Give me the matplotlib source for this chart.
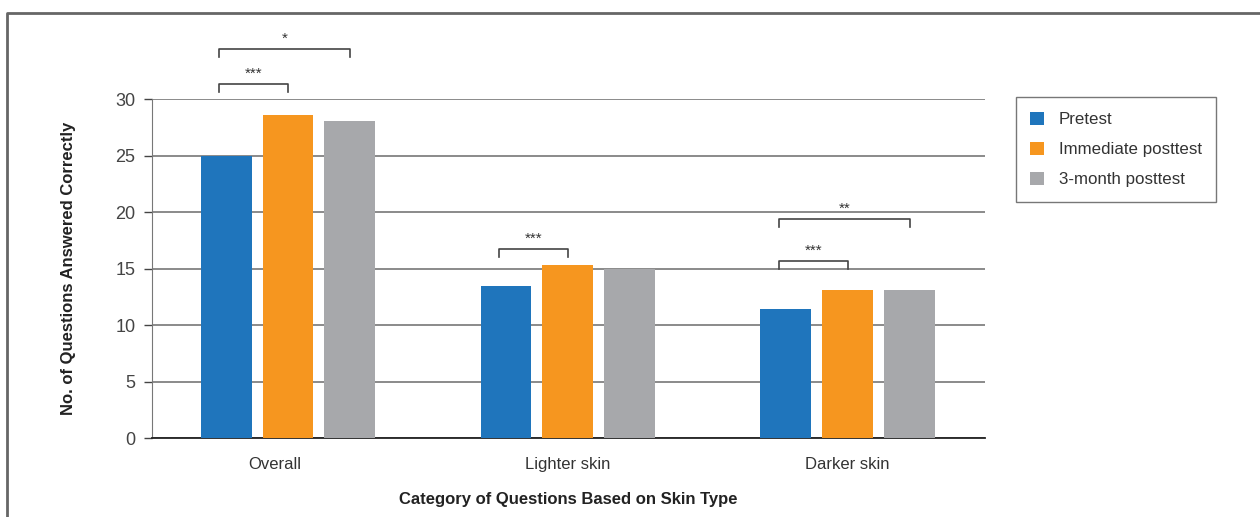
import matplotlib.pyplot as plt
import numpy as np
from matplotlib.lines import Line2D
from matplotlib.transforms import ScaledTranslation

plt.rcParams['font.family'] = ['Liberation Sans', 'DejaVu Sans']

categories = ['Overall', 'Lighter skin', 'Darker skin']
series = ['Pretest', 'Immediate posttest', '3-month posttest']
pretest = [24.95, 13.45, 11.4]
immediate = [28.6, 15.3, 13.1]
three_month = [28.05, 15.0, 13.1]
colors = ['#1f75bc', '#f6961f', '#a7a8ab']

# significance brackets: (group, from bar, to bar, height, label)
brackets = [
    (0, 0, 1, 31.3, '***'),
    (0, 0, 2, 34.4, '*'),
    (1, 0, 1, 16.7, '***'),
    (2, 0, 1, 15.65, '***'),
    (2, 0, 2, 19.4, '**'),
]

fig = plt.figure(figsize=(12.6, 5.17), dpi=100)
ax = fig.add_axes([0.1206, 0.1528, 0.661, 0.6557])

x = np.arange(len(categories))
w = 0.182
step = 0.221
for i, (vals, c, name) in enumerate(zip([pretest, immediate, three_month], colors, series)):
    ax.bar(x + (i - 1) * step, vals, w, color=c, label=name, zorder=3)

ax.set_ylim(0, 30)
ax.set_xlim(-0.486, 2.49)
ax.set_yticks(range(0, 31, 5))
ax.yaxis.grid(True, color='#777777', lw=1.2, zorder=0)
ax.set_xticks(x)
ax.set_xticklabels(categories)
ax.tick_params(axis='x', length=0, pad=14, labelsize=12, labelcolor='#333333')
ax.tick_params(axis='y', length=6, width=1, color='#444444', pad=6, labelsize=13, labelcolor='#444444')
for s in ['top', 'right']:
    ax.spines[s].set_visible(False)
ax.spines['left'].set_color('#777777')
ax.spines['bottom'].set_color('#222222')
ax.spines['bottom'].set_linewidth(1.3)

# first category label sits a little left of its group in the original
lbl = ax.get_xticklabels()[0]
lbl.set_transform(lbl.get_transform() + ScaledTranslation(-0.13, 0, fig.dpi_scale_trans))

ax.set_ylabel('No. of Questions Answered Correctly', fontsize=12, fontweight='bold',
              color='#222222', labelpad=28)
ax.set_xlabel('Category of Questions Based on Skin Type', fontsize=12, fontweight='bold',
              color='#222222', labelpad=14)

drop = 0.7
for g, a, b, y, lab in brackets:
    x0 = g + (a - 1) * step - 0.025
    x1 = g + (b - 1) * step
    ax.plot([x0, x0, x1, x1], [y - drop, y, y, y - drop], color='#444444', lw=1.2,
            clip_on=False, zorder=4)
    ax.text((x0 + x1) / 2, y + 0.3, lab, ha='center', va='bottom', fontsize=11,
            color='#333333', clip_on=False)

leg = fig.legend(loc='upper left', bbox_to_anchor=(0.806, 0.812), borderaxespad=0,
                 fontsize=12.2, frameon=True, fancybox=False, edgecolor='#555555',
                 handlelength=0.85, handleheight=0.85, handletextpad=0.85,
                 labelspacing=0.85, borderpad=0.85, labelcolor='#333333')
leg.get_frame().set_linewidth(1.0)

# outer frame (top and left edges visible)
fig.add_artist(Line2D([7 / 1260, 7 / 1260, 1], [0, 1 - 13 / 517, 1 - 13 / 517],
                      color='#666666', lw=2, transform=fig.transFigure))

fig.savefig('out.png', dpi=100)
